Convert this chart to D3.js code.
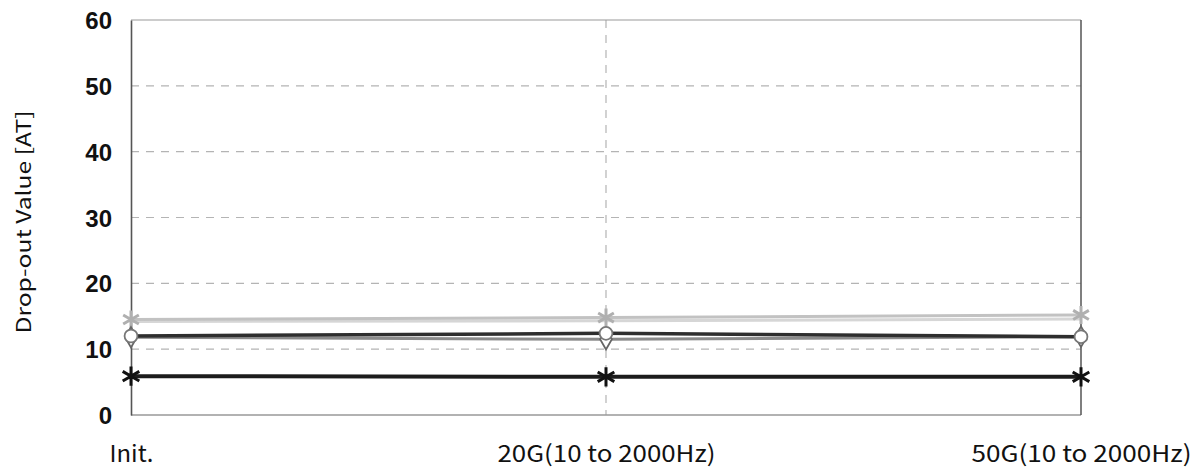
<!DOCTYPE html>
<html lang="en">
<head>
<meta charset="UTF-8">
<script src="https://cdn.jsdelivr.net/npm/d3@7"></script>
<style>
  body { margin: 0; background: #fff; }
  svg { display: block; }
</style>
</head>
<body>
<div id="viz"></div>
<script>
// categories and series
const categories = ["Init.", "20G(10 to 2000Hz)", "50G(10 to 2000Hz)"]
const labelWidths = [44, 218, 220]
const yTicks = [0, 10, 20, 30, 40, 50, 60]

const starGray = [14.5, 14.8, 15.2]
const lightGray = [14.2, 14.3, 14.6]
const circleDark = [12.0, 12.4, 11.9]
const diamondGray = [11.8, 11.5, 11.9]
const asteriskBlack = [5.9, 5.8, 5.8]

const series = [
    { values: lightGray, color: "#d6d6d6", width: 3, marker: null },
    { values: starGray, color: "#c2c2c2", width: 3, marker: d3.symbolAsterisk, fill: "none", mcolor: "#b0b0b0", size: 230 },
    { values: diamondGray, color: "#8a8a8a", width: 3, marker: d3.symbolDiamond, fill: "#fff", mcolor: "#666", size: 120 },
    { values: circleDark, color: "#2e2e2e", width: 3.5, marker: d3.symbolCircle, fill: "#fff", mcolor: "#777", size: 130 },
    { values: asteriskBlack, color: "#1c1c1c", width: 4, marker: d3.symbolAsterisk, fill: "none", mcolor: "#111", size: 260 }
]

const fullWidth = 1198
const fullHeight = 468
const margins = { top: 20, right: 117, bottom: 53, left: 131 }
const width = fullWidth - margins.left - margins.right
const height = fullHeight - margins.top - margins.bottom

const svg = d3.select("#viz").append("svg")
    .attr("width", fullWidth)
    .attr("height", fullHeight)
  .append("g")
    .attr("transform", `translate(${margins.left},${margins.top})`)

const x = d3.scalePoint().domain(categories).range([0, width])
const y = d3.scaleLinear().domain([0, 60]).range([height, 0])

// dashed gridlines
svg.append("g").selectAll("line")
    .data(yTicks.filter(d => d > 0 && d < 60))
    .join("line")
    .attr("x1", 0).attr("x2", width)
    .attr("y1", d => y(d)).attr("y2", d => y(d))
    .attr("stroke", "#b4b4b4").attr("stroke-width", 1.2)
    .attr("stroke-dasharray", "8,7")

svg.append("line")
    .attr("x1", x(categories[1])).attr("x2", x(categories[1]))
    .attr("y1", 0).attr("y2", height)
    .attr("stroke", "#b4b4b4").attr("stroke-width", 1.2)
    .attr("stroke-dasharray", "8,7")

// frame
svg.append("line").attr("x1", 0).attr("x2", width).attr("y1", 0).attr("y2", 0)
    .attr("stroke", "#999").attr("stroke-width", 1.2)
svg.append("line").attr("x1", 0).attr("x2", width).attr("y1", height).attr("y2", height)
    .attr("stroke", "#999").attr("stroke-width", 1.5)
svg.append("line").attr("x1", width).attr("x2", width).attr("y1", 0).attr("y2", height)
    .attr("stroke", "#555").attr("stroke-width", 1.5)

// y axis
const yAxis = svg.append("g")
    .call(d3.axisLeft(y).tickValues(yTicks).tickSize(0).tickPadding(19))
yAxis.select(".domain").attr("stroke", "#555").attr("stroke-width", 1.6)
yAxis.selectAll("text")
    .attr("font-family", "Liberation Sans, Arial, sans-serif")
    .attr("font-size", 24).attr("font-weight", "bold").attr("fill", "#111")
    .attr("dy", "0.36em")

// x axis labels
const xAxis = svg.append("g")
    .attr("transform", `translate(0,${height})`)
    .call(d3.axisBottom(x).tickSize(0).tickPadding(31))
xAxis.select(".domain").remove()
xAxis.selectAll("text")
    .attr("font-family", "Noto Sans CJK JP, sans-serif")
    .attr("font-size", 23).attr("fill", "#111")
    .attr("textLength", (d, i) => labelWidths[i])
    .attr("lengthAdjust", "spacingAndGlyphs")
    .attr("x", (d, i) => -labelWidths[i] / 2)
    .attr("text-anchor", "start")

// y title
svg.append("text")
    .attr("transform", `translate(${-100},${222 - margins.top}) rotate(-90)`)
    .attr("text-anchor", "middle")
    .attr("font-family", "Noto Sans CJK JP, sans-serif")
    .attr("font-size", 20).attr("fill", "#111")
    .attr("textLength", 223)
    .attr("lengthAdjust", "spacingAndGlyphs")
    .text("Drop-out Value [AT]")

// lines and markers
const line = d3.line().x((d, i) => x(categories[i])).y(d => y(d))

series.forEach(s => {
    svg.append("path")
        .datum(s.values)
        .attr("fill", "none")
        .attr("stroke", s.color)
        .attr("stroke-width", s.width)
        .attr("d", line)
    if (s.marker) {
        svg.append("g").selectAll("path")
            .data(s.values)
            .join("path")
            .attr("transform", (d, i) => `translate(${x(categories[i])},${y(d)})`)
            .attr("d", d3.symbol().type(s.marker).size(s.size))
            .attr("fill", s.fill)
            .attr("stroke", s.mcolor)
            .attr("stroke-width", s.marker === d3.symbolAsterisk ? 3 : 1.8)
    }
})
</script>
</body>
</html>
